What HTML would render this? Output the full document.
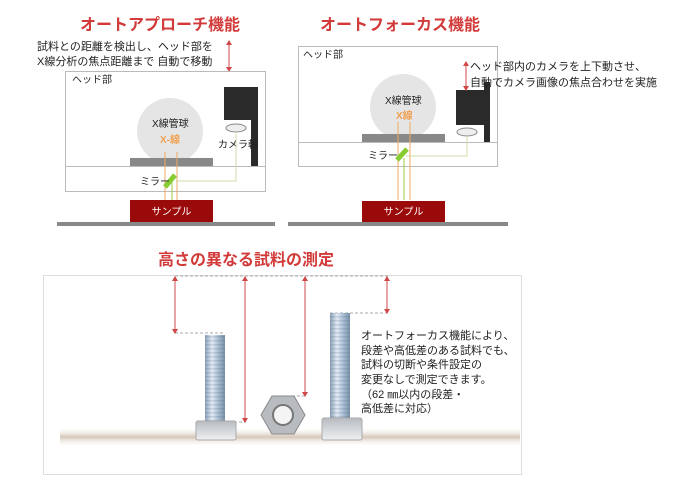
<!DOCTYPE html>
<html><head><meta charset="utf-8"><style>
body{margin:0;background:#fff;}
svg text{font-family:"Liberation Sans","Noto Sans CJK JP",sans-serif;}
</style></head><body>
<svg width="700" height="487" viewBox="0 0 700 487" xmlns="http://www.w3.org/2000/svg">
<defs>
<linearGradient id="thr" x1="0" x2="1"><stop offset="0" stop-color="#8aa0b8"/><stop offset="0.35" stop-color="#e2ecf6"/><stop offset="0.6" stop-color="#b4c8dc"/><stop offset="1" stop-color="#7890a8"/></linearGradient>
<pattern id="ridge" width="6" height="4" patternUnits="userSpaceOnUse"><rect width="6" height="1.5" fill="#345" opacity="0.15"/></pattern>
<linearGradient id="hd" x1="0" x2="0" y1="0" y2="1"><stop offset="0" stop-color="#b8bcc2"/><stop offset="1" stop-color="#eef0f2"/></linearGradient>
<linearGradient id="sh" x1="0" x2="0" y1="0" y2="1"><stop offset="0" stop-color="#fff" stop-opacity="0"/><stop offset="0.5" stop-color="#c0a890" stop-opacity="0.65"/><stop offset="1" stop-color="#fff" stop-opacity="0"/></linearGradient>
</defs>
<g font-weight="bold" font-size="16" fill="#d23a3a">
<text x="80" y="30">オートアプローチ機能</text>
<text x="320" y="30">オートフォーカス機能</text>
<text x="158" y="265" font-size="16">高さの異なる試料の測定</text>
</g>
<!-- left diagram -->
<text x="37" y="50" font-size="11" fill="#222">試料との距離を検出し、ヘッド部を</text>
<text x="37" y="65" font-size="11" fill="#222">X線分析の焦点距離まで 自動で移動</text>
<line x1="229" y1="42" x2="229" y2="70" stroke="#d04848"/>
<path d="M226,45 L229,40 L232,45Z M226,67 L229,72 L232,67Z" fill="#d04848"/>
<rect x="65.5" y="71.5" width="200" height="120" fill="#fff" stroke="#bbb"/>
<line x1="65" y1="166.5" x2="266" y2="166.5" stroke="#bbb"/>
<text x="72" y="83" font-size="10" fill="#222">ヘッド部</text>
<circle cx="170" cy="131" r="33" fill="#e5e5e5"/>
<rect x="130" y="158" width="83" height="8" fill="#888"/>
<path d="M224,87 H258 V166 H251 V120 H224Z" fill="#2a2a2a"/>
<ellipse cx="236" cy="128" rx="10" ry="4" fill="#eee" stroke="#888"/>
<text x="218" y="148" font-size="10" fill="#222">カメラ軸</text>
<text x="152" y="127" font-size="10" fill="#222">X線管球</text>
<text x="160" y="143" font-size="10" font-weight="bold" fill="#f0a050">X-線</text>
<g stroke="#f0a860" stroke-width="1"><line x1="165" y1="152" x2="165" y2="200"/><line x1="177" y1="152" x2="177" y2="200"/></g>
<polyline points="172,182 172,200" stroke="#9c4" fill="none"/>
<polyline points="176,181 236,181 236,134" stroke="#cda" fill="none"/>
<line x1="165" y1="187" x2="175" y2="175" stroke="#8c3" stroke-width="5"/>
<text x="140" y="185" font-size="10" fill="#222">ミラー</text>
<rect x="130" y="200" width="83" height="22" fill="#9b0a0a"/>
<text x="171.5" y="215" font-size="10" fill="#fff" text-anchor="middle">サンプル</text>
<rect x="57" y="222" width="218" height="4" fill="#888"/>
<!-- right diagram -->
<rect x="298.5" y="46.5" width="199" height="120" fill="#fff" stroke="#bbb"/>
<line x1="298" y1="142.5" x2="498" y2="142.5" stroke="#bbb"/>
<text x="303" y="58" font-size="10" fill="#222">ヘッド部</text>
<circle cx="403" cy="107" r="33" fill="#e5e5e5"/>
<rect x="362" y="134" width="83" height="8" fill="#888"/>
<rect x="456" y="90" width="28" height="35" fill="#2a2a2a"/>
<rect x="484" y="82" width="6" height="60" fill="#2a2a2a"/>
<ellipse cx="467" cy="132" rx="10" ry="4" fill="#eee" stroke="#888"/>
<line x1="466" y1="64" x2="466" y2="88" stroke="#d04848"/>
<path d="M463,66 L466,61 L469,66Z M463,86 L466,91 L469,86Z" fill="#d04848"/>
<text x="470" y="70" font-size="11" fill="#222">ヘッド部内のカメラを上下動させ、</text>
<text x="470" y="86" font-size="11" fill="#222">自動でカメラ画像の焦点合わせを実施</text>
<text x="385" y="104" font-size="10" fill="#222">X線管球</text>
<text x="396" y="119" font-size="10" font-weight="bold" fill="#f0a050">X線</text>
<g stroke="#f0a860"><line x1="398" y1="122" x2="398" y2="200"/><line x1="410" y1="122" x2="410" y2="200"/></g>
<line x1="404" y1="158" x2="404" y2="200" stroke="#9c4"/>
<polyline points="406,156 467,156 467,136" stroke="#cda" fill="none"/>
<line x1="397" y1="160" x2="407" y2="149" stroke="#8c3" stroke-width="5"/>
<text x="368" y="159" font-size="10" fill="#222">ミラー</text>
<rect x="362" y="201" width="83" height="21" fill="#9b0a0a"/>
<text x="403.5" y="215" font-size="10" fill="#fff" text-anchor="middle">サンプル</text>
<rect x="288" y="222" width="220" height="4" fill="#888"/>
<!-- photo -->
<rect x="43.5" y="275.5" width="478" height="199" fill="#fff" stroke="#ddd"/>
<rect x="60" y="427" width="460" height="20" fill="url(#sh)"/>
<g stroke="#aaa" stroke-dasharray="3,2"><line x1="175" y1="276" x2="390" y2="276"/><line x1="175" y1="333" x2="225" y2="333"/><line x1="234" y1="422" x2="245" y2="422"/><line x1="272" y1="396" x2="305" y2="396"/><line x1="330" y1="313" x2="387" y2="313"/></g>
<g stroke="#d04848"><line x1="175" y1="279" x2="175" y2="331"/><line x1="245" y1="279" x2="245" y2="420"/><line x1="305" y1="279" x2="305" y2="394"/><line x1="387" y1="279" x2="387" y2="311"/></g>
<g fill="#d04848"><path d="M172,281 L175,276 L178,281Z M172,329 L175,334 L178,329Z M242,281 L245,276 L248,281Z M242,418 L245,423 L248,418Z M302,281 L305,276 L308,281Z M302,392 L305,397 L308,392Z M384,281 L387,276 L390,281Z M384,309 L387,314 L390,309Z"/></g>
<rect x="205" y="335" width="20" height="88" fill="url(#thr)"/><rect x="205" y="335" width="20" height="88" fill="url(#ridge)"/>
<rect x="196" y="421" width="40" height="19" rx="2" fill="url(#hd)" stroke="#aaa"/>
<rect x="330" y="313" width="20" height="106" fill="url(#thr)"/><rect x="330" y="313" width="20" height="106" fill="url(#ridge)"/>
<rect x="322" y="418" width="40" height="22" rx="2" fill="url(#hd)" stroke="#aaa"/>
<polygon points="272,396 294,396 305,415 294,434 272,434 261,415" fill="#b8bcc0" stroke="#888"/>
<circle cx="283" cy="415" r="10" fill="#f4f4f4" stroke="#777" stroke-width="2"/>
<g font-size="11" fill="#222">
<text x="361" y="339">オートフォーカス機能により、</text>
<text x="361" y="354">段差や高低差のある試料でも、</text>
<text x="361" y="368">試料の切断や条件設定の</text>
<text x="361" y="383">変更なしで測定できます。</text>
<text x="361" y="398">（62 ㎜以内の段差・</text>
<text x="361" y="412">高低差に対応）</text>
</g>
</svg>
</body></html>
